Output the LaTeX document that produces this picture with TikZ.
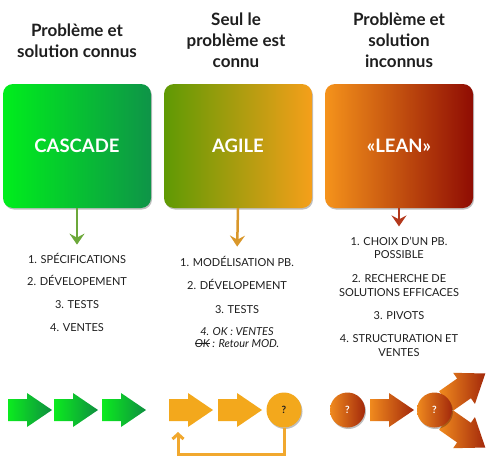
\documentclass[tikz,border=0pt]{standalone}
\usepackage{fontspec}
\setmainfont{Lato}
\usetikzlibrary{shadows,arrows.meta}
\newcommand\mystrike[1]{\setbox0=\hbox{#1}\rlap{\rule[0.33em]{\wd0}{0.7pt}}\box0}
\definecolor{boxAl}{HTML}{00EE1C}
\definecolor{boxAr}{HTML}{0E9448}
\definecolor{boxBl}{HTML}{5F9A04}
\definecolor{boxBr}{HTML}{F59F1A}
\definecolor{boxCl}{HTML}{F5931B}
\definecolor{boxCr}{HTML}{8F0C03}
\definecolor{grnL}{HTML}{0CEB1F}
\definecolor{grnR}{HTML}{0E8F3F}
\definecolor{orng}{HTML}{F3A81C}
\definecolor{leanL}{HTML}{F08A1E}
\definecolor{leanR}{HTML}{A3290B}
\definecolor{dnA}{HTML}{6CA83A}
\definecolor{dnB}{HTML}{D9972A}
\definecolor{dnC}{HTML}{B3381C}
\definecolor{fbcol}{HTML}{F1A82E}
\definecolor{txt}{HTML}{1E1E1E}
\tikzset{
  fatarrow/.pic={\path[pic actions] (0,-11) -- (19,-11) -- (19,-17) -- (44,0) -- (19,17) -- (19,11) -- (0,11) -- cycle;},
  bigarrow/.pic={\path[pic actions] (0,-12) -- (22,-12) -- (22,-19) -- (48,0) -- (22,19) -- (22,12) -- (0,12) -- cycle;},
  softshadow/.style={drop shadow={shadow xshift=1pt, shadow yshift=-1.5pt, opacity=.25, fill=black}},
  methodbox/.style={rounded corners=10pt, minimum width=148pt, minimum height=124pt, inner sep=0pt,
     text=white, font=\bfseries\fontsize{18.5}{20}\selectfont, softshadow},
  title/.style={align=center, inner sep=0pt, anchor=north, text=txt, font=\bfseries\fontsize{17}{21}\selectfont},
  item/.style={inner sep=0pt, anchor=base, text=txt, font=\fontsize{11}{13}\selectfont},
  dnarrow/.style={line width=2.5pt, -{Stealth[length=11pt,width=15pt,inset=4pt]}},
  qcircle/.style={circle, minimum size=35pt, inner sep=0pt, font=\bfseries\fontsize{10}{11}\selectfont, softshadow},
  fb/.style={draw=fbcol, line width=3pt, -{Straight Barb[length=5pt,width=11pt]}}
}
\begin{document}
\begin{tikzpicture}[x=1pt,y=-1pt]
\useasboundingbox[fill=white] (0,0) rectangle (495,466);
% titles
\node[title] (t1) at (77,23.5) {Problème et\\solution connus};
\node[title] (t2) at (236,12.5) {Seul le\\problème est\\connu};
\node[title] (t3) at (399,12.5) {Problème et\\solution\\inconnus};
% boxes
\node[methodbox, left color=boxAl, right color=boxAr] (cascade) at (77,146) {CASCADE};
\node[methodbox, left color=boxBl, right color=boxBr] (agile) at (238,146) {AGILE};
\node[methodbox, left color=boxCl, right color=boxCr] (lean) at (399,146) {«LEAN»};
% list 1
\node[item] (a1) at (77,263) {1. SPÉCIFICATIONS};
\node[item] (a2) at (77,285) {2. DÉVELOPEMENT};
\node[item] (a3) at (77,308) {3. TESTS};
\node[item] (a4) at (77,331) {4. VENTES};
% list 2
\node[item] (b1) at (237,266) {1. MODÉLISATION PB.};
\node[item] (b2) at (237,289) {2. DÉVELOPEMENT};
\node[item] (b3) at (237,313) {3. TESTS};
\node[item, font=\itshape\fontsize{11}{13}\selectfont] (b4) at (237,335) {4. OK : VENTES};
\node[item, font=\itshape\fontsize{11}{13}\selectfont] (b5) at (237,347) {\mystrike{OK}\ : Retour MOD.};
% list 3
\node[item] (c1) at (399,245) {1. CHOIX D’UN PB.};
\node[item] (c1b) at (399,258) {POSSIBLE};
\node[item] (c2) at (399,282) {2. RECHERCHE DE};
\node[item] (c2b) at (399,296) {SOLUTIONS EFFICACES};
\node[item] (c3) at (399,319) {3. PIVOTS};
\node[item] (c4) at (399,342) {4. STRUCTURATION ET};
\node[item] (c4b) at (399,356) {VENTES};
% down arrows
\draw[dnarrow, draw=dnA, fill=dnA, shorten >=8pt] (cascade.south) -- (a1.north);
\draw[dnarrow, draw=dnB, fill=dnB, shorten >=9pt] (agile.south) -- (b1.north);
\draw[dnarrow, draw=dnC, fill=dnC, shorten >=10pt] (lean.south) -- (c1.north);
% bottom row: cascade
\pic[left color=grnL, right color=grnR, softshadow] at (8,410) {fatarrow};
\pic[left color=grnL, right color=grnR, softshadow] at (54,410) {fatarrow};
\pic[left color=grnL, right color=grnR, softshadow] at (102,410) {fatarrow};
% bottom row: agile
\pic[fill=orng, softshadow] at (169,410) {fatarrow};
\pic[fill=orng, softshadow] at (218,410) {fatarrow};
\node[qcircle, fill=orng, text=txt] (q1) at (284,410) {?};
\coordinate (fbend) at (178,432);
\draw[fb] (q1.south) -- ++(0,27) -| (fbend);
% bottom row: lean
\node[qcircle, left color=leanL, right color=leanR, text=white] (q2) at (347.5,410) {?};
\pic[left color=leanL, right color=leanR, softshadow] at (370,410) {fatarrow};
\pic[left color=leanL, right color=leanR, softshadow, rotate=35] at (446,401) {bigarrow};
\pic[left color=leanL, right color=leanR, softshadow, rotate=-35] at (446,420) {bigarrow};
\node[qcircle, left color=leanL, right color=leanR, text=white] (q3) at (434.5,410) {?};
\end{tikzpicture}
\end{document}
